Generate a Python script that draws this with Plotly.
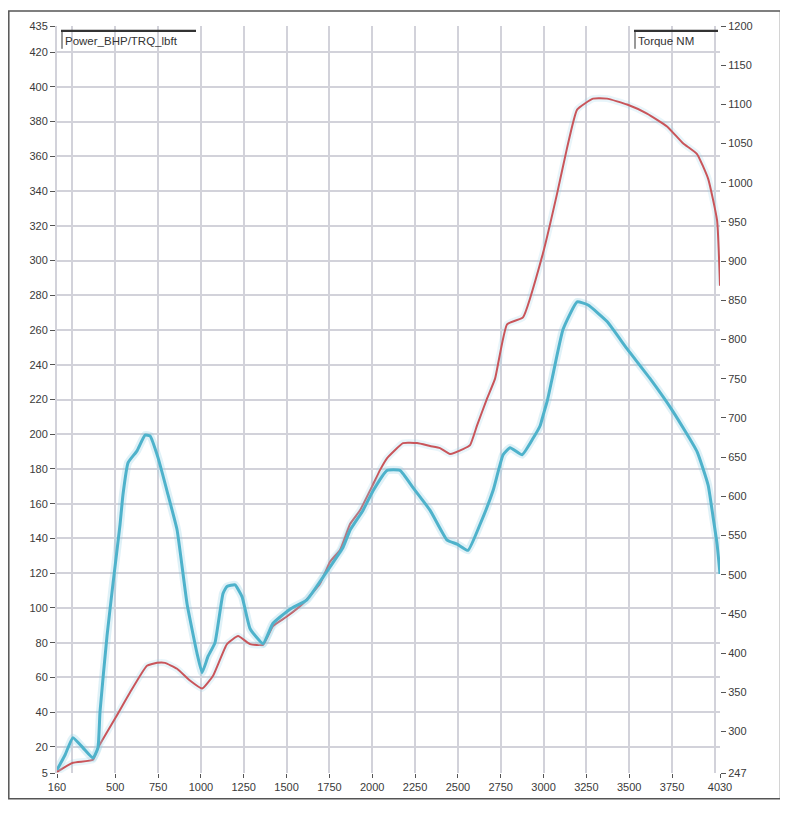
import plotly.graph_objects as go

# ---- data ----
power_rpm = [160, 253, 370, 399, 510, 586, 685, 744, 790, 861, 936, 1007, 1071, 1152, 1217,
             1287, 1363, 1421, 1503, 1596, 1695, 1754, 1812, 1871, 1929, 2005, 2046, 2087,
             2180, 2262, 2338, 2396, 2454, 2530, 2571, 2612, 2670, 2717, 2787, 2880, 2997,
             3079, 3137, 3196, 3289, 3371, 3488, 3604, 3721, 3814, 3896, 3961, 4013, 4030]
power_bhp = [5.7, 10.9, 12.6, 19.4, 38.2, 51.3, 66.7, 68.4, 68.4, 65.0, 58.2, 53.6, 61.0, 79.2,
             83.8, 79.2, 78.8, 89.6, 95.2, 102.6, 114.0, 126.6, 133.4, 148.3, 156.2, 171.1,
             179.5, 186.3, 194.9, 194.9, 193.2, 192.0, 188.6, 191.4, 193.7, 205.1, 220.5, 232.0,
             263.3, 267.3, 304.3, 338.5, 364.7, 386.9, 393.2, 393.2, 389.8, 384.6, 377.2, 367.5,
             361.3, 347.0, 323.1, 285.5]

torque_rpm = [160, 207, 253, 312, 370, 399, 411, 452, 487, 528, 545, 575, 627, 674, 703, 750,
              808, 861, 919, 977, 1007, 1042, 1082, 1129, 1152, 1199, 1240, 1287, 1363, 1421,
              1520, 1619, 1713, 1754, 1830, 1871, 1946, 2005, 2087, 2162, 2238, 2338, 2437,
              2495, 2559, 2629, 2705, 2764, 2805, 2875, 2939, 2980, 2997, 3021, 3050, 3114,
              3196, 3260, 3371, 3488, 3622, 3756, 3896, 3961, 3990, 4013, 4030]
torque_nm = [251, 270, 292, 279, 266, 279, 325, 422, 489, 564, 602, 643, 658, 678, 677, 649,
             602, 557, 463, 400, 375, 396, 413, 476, 485, 487, 472, 431, 412, 438, 456, 468,
             497, 510, 535, 557, 582, 607, 633, 633, 611, 582, 544, 539, 531, 564, 607, 653,
             662, 653, 674, 690, 703, 721, 750, 813, 848, 844, 823, 788, 750, 708, 657, 614,
             573, 539, 501]

x_ticks = [160, 500, 750, 1000, 1250, 1500, 1750, 2000, 2250, 2500, 2750, 3000, 3250, 3500, 3750, 4030]
x_grid = list(range(250, 4001, 250))
left_ticks = [5] + list(range(20, 421, 20)) + [435]
right_ticks = [247] + list(range(300, 1201, 50))

legend_left = "Power_BHP/TRQ_lbft"
legend_right = "Torque NM"

# ---- layout geometry (page has an 8px body margin) ----
OX, OY = 8, 8
W, H = 772, 797
PL, PR, PT, PB = 57, 720, 24, 778          # plot area in window pixels
L, T = PL - OX, PT - OY
R = W - (PR - OX)
B = H - (PB - OY)
PW, PH = PR - PL, PB - PT


def px(x):
    return (x - PL) / PW


def py(y):
    return (PB - y) / PH


font = dict(family="Liberation Sans, Arial, sans-serif", size=11, color="#3a3a3a")
grid_col = "#d2d2da"

fig = go.Figure()

# soft halo under lines
fig.add_trace(go.Scatter(x=torque_rpm, y=torque_nm, yaxis="y2", mode="lines",
                         line=dict(color="rgba(140,205,228,0.28)", width=8, shape="spline", smoothing=0.4),
                         hoverinfo="skip", showlegend=False))
fig.add_trace(go.Scatter(x=power_rpm, y=power_bhp, mode="lines",
                         line=dict(color="rgba(150,210,230,0.22)", width=7, shape="spline", smoothing=0.4),
                         hoverinfo="skip", showlegend=False))

fig.add_trace(go.Scatter(x=power_rpm, y=power_bhp, mode="lines", name=legend_left,
                         line=dict(color="#c9555a", width=2, shape="spline", smoothing=0.4),
                         showlegend=False))
fig.add_trace(go.Scatter(x=torque_rpm, y=torque_nm, yaxis="y2", mode="lines", name=legend_right,
                         line=dict(color="#4eb2cb", width=3, shape="spline", smoothing=0.4),
                         showlegend=False))

fig.update_layout(
    width=W, height=H,
    margin=dict(l=L, r=R, t=T, b=B, pad=0),
    paper_bgcolor="white", plot_bgcolor="white",
    font=font,
    xaxis=dict(range=[160, 4030], tickmode="array", tickvals=x_ticks,
               ticktext=[str(v) for v in x_ticks],
               showgrid=False, zeroline=False, showline=False,
               ticks="outside", ticklen=4, tickcolor="#555", tickfont=font,
               minor=dict(tickmode="array", tickvals=x_grid, showgrid=True,
                          gridcolor=grid_col, gridwidth=2, ticks="")),
    yaxis=dict(range=[5, 435], tickmode="array", tickvals=left_ticks,
               showgrid=True, gridcolor=grid_col, gridwidth=2, zeroline=False,
               showline=True, linecolor=grid_col, linewidth=2,
               ticks="outside", ticklen=5, tickcolor="#555", tickfont=font),
    yaxis2=dict(range=[247, 1200], overlaying="y", side="right", tickmode="array",
                tickvals=right_ticks, showgrid=False, zeroline=False,
                showline=False, ticks="outside", ticklen=5, tickcolor="#555",
                tickfont=font),
)

shapes = []
# outer frame
shapes.append(dict(type="rect", xref="paper", yref="paper",
                   x0=px(8.8), x1=px(780.5), y0=py(H + OY - 1), y1=py(OY + 0.8),
                   line=dict(color="#555", width=1.5), layer="above"))
# legend boxes
for (x0, x1) in [(61, 196), (634, 718)]:
    shapes.append(dict(type="line", xref="paper", yref="paper",
                       x0=px(x0), x1=px(x1), y0=py(29), y1=py(29),
                       line=dict(color="#333", width=2.2)))
    shapes.append(dict(type="line", xref="paper", yref="paper",
                       x0=px(x0 + 1), x1=px(x0 + 1), y0=py(29), y1=py(47),
                       line=dict(color="#333", width=1)))
fig.update_layout(shapes=shapes)

lfont = dict(family="Liberation Sans, Arial, sans-serif", size=11.5, color="#333")
fig.add_annotation(x=px(63), y=py(39), xref="paper", yref="paper", text=legend_left,
                   showarrow=False, xanchor="left", yanchor="middle", font=lfont)
fig.add_annotation(x=px(636), y=py(39), xref="paper", yref="paper", text=legend_right,
                   showarrow=False, xanchor="left", yanchor="middle", font=lfont)

fig.write_html("out.html")
